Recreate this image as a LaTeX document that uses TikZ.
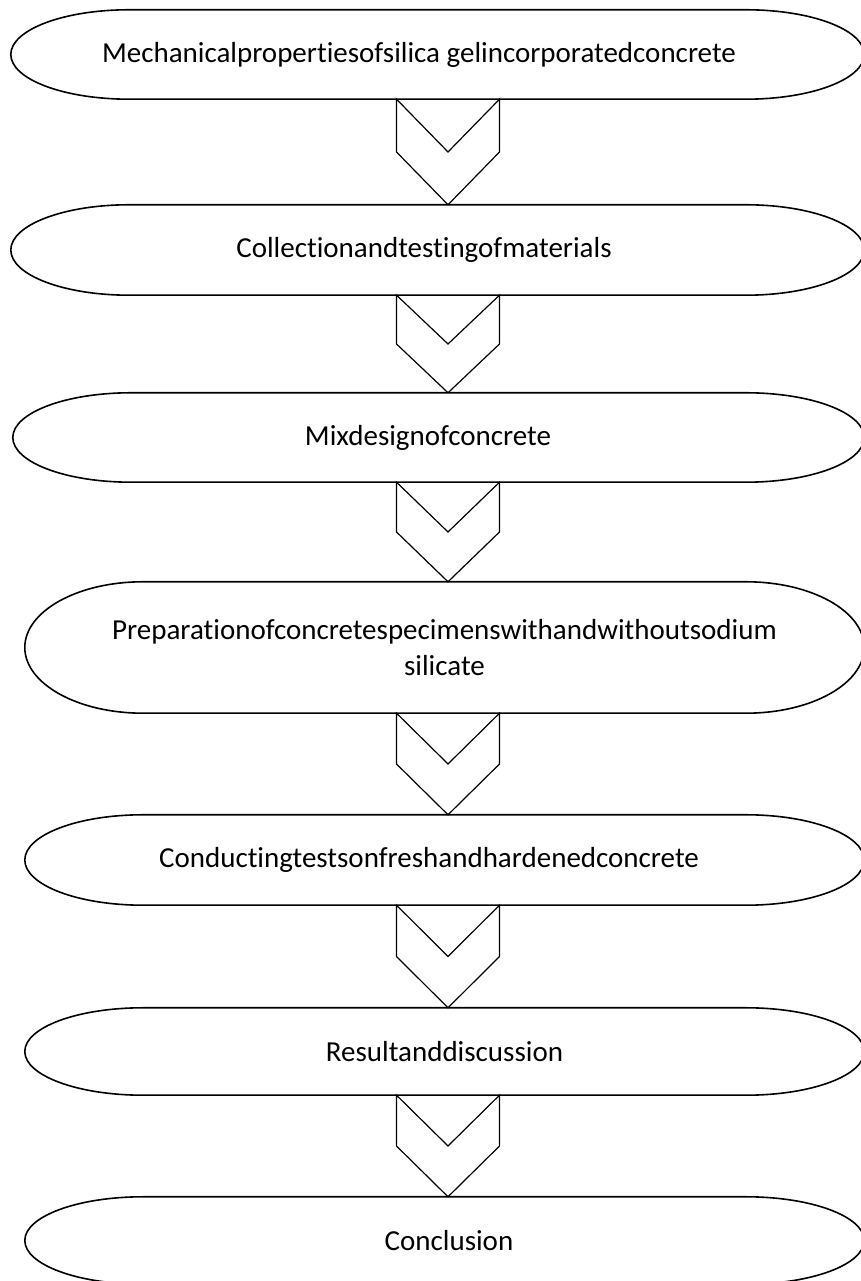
\documentclass[tikz,border=0pt]{standalone}
\usepackage{fontspec}
\setmainfont{Carlito}[Ligatures={NoCommon}]
\usetikzlibrary{calc}

\tikzset{
	stage/.style={draw=none, inner sep=0pt, align=center, font=\fontsize{29}{36}\selectfont},
	stageline/.style={line width=1.6pt},
	chevline/.style={line width=1.2pt, line join=miter},
}

% outline of a terminator box round a node
\newcommand{\termbox}[2][118pt]{%
	\draw[stageline] let \p1=(#2.north west), \p2=(#2.south east), \n1={(\y1-\y2)/2} in
	(\x1+#1,\y1) -- (\x2-#1,\y1)
	arc[start angle=90, end angle=-90, x radius=#1, y radius={\n1*1pt}]
	-- (\x1+#1,\y2)
	arc[start angle=270, end angle=90, x radius=#1, y radius={\n1*1pt}] -- cycle;}

% chevron between two boxes
\newcommand{\chev}[2]{%
	\draw[chevline] let \p1=(#1.south -| ax), \p2=(#2.north -| ax), \p3=($(\p1)!.5!(\p2)$) in
	(\x1-51.5pt,\y1) -- (\x1-51.5pt,\y3) -- (\p2) -- (\x1+51.5pt,\y3) -- (\x1+51.5pt,\y1) -- (\p3) -- cycle;}

\begin{document}
\begin{tikzpicture}[x=1pt, y=1pt]
	\useasboundingbox (0,0) rectangle (861,1281);
	\coordinate (ax) at (448,0);

	\node[stage, minimum width=853, minimum height=89] (mech) at (437.5,1226.5)
		{\hspace*{-37pt}Mechanicalpropertiesofsilica gelincorporatedconcrete};
	\node[stage, minimum width=853, minimum height=90] (collect) at (437.5,1031)
		{\hspace*{-27pt}Collectionandtestingofmaterials};
	\node[stage, minimum width=851, minimum height=89] (mix) at (438.5,843.5)
		{\hspace*{-21pt}Mixdesignofconcrete};
	\node[stage, minimum width=839, minimum height=131] (prep) at (444.5,633.5)
		{Preparationofconcretespecimenswithandwithoutsodium\\silicate};
	\node[stage, minimum width=839, minimum height=90] (tests) at (444.5,421)
		{\hspace*{-31pt}Conductingtestsonfreshandhardenedconcrete};
	\node[stage, minimum width=839, minimum height=87] (result) at (444.5,229.5)
		{Resultanddiscussion};
	\node[stage, minimum width=839, minimum height=87] (concl) at (444.5,40.5)
		{\hspace*{9pt}Conclusion};

	\foreach \b in {mech, collect, mix, prep, tests, result, concl}
		\termbox{\b};

	\chev{mech}{collect}
	\chev{collect}{mix}
	\chev{mix}{prep}
	\chev{prep}{tests}
	\chev{tests}{result}
	\chev{result}{concl}
\end{tikzpicture}
\end{document}
